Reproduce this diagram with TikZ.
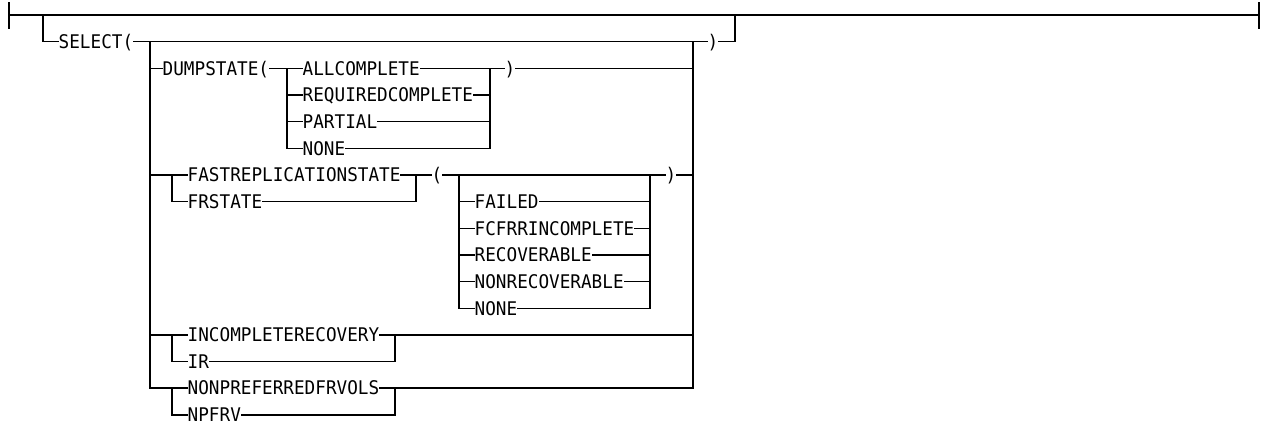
\documentclass[tikz,border=0pt]{standalone}
\usepackage{fontspec}
\newfontfamily\diagfont[FakeStretch=0.94]{DejaVu Sans Mono}
\begin{document}
\begin{tikzpicture}[x=0.5pt,y=-0.5pt,line width=0.7pt,line cap=rect,
  kw/.style={anchor=west,inner sep=0pt,text height=6.85pt,text depth=0pt,
    font={\diagfont\fontsize{9.4}{11}\selectfont}}]
\useasboundingbox (0,0) rectangle (1270,424);
\coordinate (start) at (9,15);
\coordinate (stop) at (1259,15);
\coordinate (drop) at (43,15);
\coordinate (rise) at (735,15);
\coordinate (selL) at (150,41.7);
\coordinate (selR) at (693,41.7);
\coordinate (dL) at (287,68.3);
\coordinate (dR) at (490,68.3);
\coordinate (frL) at (172,174.9);
\coordinate (frR) at (416,174.9);
\coordinate (fL) at (459,174.9);
\coordinate (fR) at (650,174.9);
\coordinate (irL) at (172,334.8);
\coordinate (irR) at (395,334.8);
\coordinate (npL) at (172,388.1);
\coordinate (npR) at (395,388.1);
\node[kw] (select) at (58,41.7) {SELECT(};
\node[kw] (sclose) at (707,41.7) {)};
\node[kw] (dump) at (162,68.3) {DUMPSTATE(};
\node[kw] (allc) at (302,68.3) {ALLCOMPLETE};
\node[kw] (reqc) at (302,95) {REQUIREDCOMPLETE};
\node[kw] (part) at (302,121.6) {PARTIAL};
\node[kw] (dnone) at (302,148.3) {NONE};
\node[kw] (dclose) at (504,68.3) {)};
\node[kw] (fast) at (187,174.9) {FASTREPLICATIONSTATE};
\node[kw] (frs) at (187,201.6) {FRSTATE};
\node[kw] (fopen) at (431,174.9) {(};
\node[kw] (failed) at (474,201.6) {FAILED};
\node[kw] (fcfrr) at (474,228.2) {FCFRRINCOMPLETE};
\node[kw] (recov) at (474,254.9) {RECOVERABLE};
\node[kw] (nonrec) at (474,281.5) {NONRECOVERABLE};
\node[kw] (fnone) at (474,308.2) {NONE};
\node[kw] (fclose) at (665,174.9) {)};
\node[kw] (incomp) at (187,334.8) {INCOMPLETERECOVERY};
\node[kw] (ir) at (187,361.5) {IR};
\node[kw] (nonpref) at (187,388.1) {NONPREFERREDFRVOLS};
\node[kw] (npfrv) at (187,414.8) {NPFRV};
% main line
\draw (start) ++(0,-12) -- ++(0,25);
\draw (start) -- (stop);
\draw (stop) ++(0,-12) -- ++(0,25);
\draw (drop) |- (select.west);
\draw (select.east) -- (sclose.west);
\draw (sclose.east) -| (rise);
\draw (selL) -- (selL |- nonpref.west);
\draw (selR) -- (selR |- nonpref.west);
% DUMPSTATE
\draw (selL |- dump.west) -- (dump.west);
\draw (dump.east) -- (dL);
\foreach \n in {allc,reqc,part,dnone}
  \draw (dL |- \n.west) -- (\n.west) (\n.east) -- (dR |- \n.west);
\draw (dL) -- (dL |- dnone.west);
\draw (dR) -- (dR |- dnone.west);
\draw (dR) -- (dclose.west);
\draw (dclose.east) -- (selR |- dclose.west);
% FASTREPLICATIONSTATE
\draw (selL |- frL) -- (frL);
\foreach \n in {fast,frs}
  \draw (frL |- \n.west) -- (\n.west) (\n.east) -- (frR |- \n.west);
\draw (frL) -- (frL |- frs.west);
\draw (frR) -- (frR |- frs.west);
\draw (frR) -- (fopen.west);
\draw (fopen.east) -- (fL) -- (fR) -- (fclose.west);
\draw (fclose.east) -- (selR |- fclose.west);
\foreach \n in {failed,fcfrr,recov,nonrec,fnone}
  \draw (fL |- \n.west) -- (\n.west) (\n.east) -- (fR |- \n.west);
\draw (fL) -- (fL |- fnone.west);
\draw (fR) -- (fR |- fnone.west);
% INCOMPLETERECOVERY
\draw (selL |- irL) -- (irL);
\foreach \n in {incomp,ir}
  \draw (irL |- \n.west) -- (\n.west) (\n.east) -- (irR |- \n.west);
\draw (irL) -- (irL |- ir.west);
\draw (irR) -- (irR |- ir.west);
\draw (irR) -- (selR |- irR);
% NONPREFERREDFRVOLS
\draw (selL |- npL) -- (npL);
\foreach \n in {nonpref,npfrv}
  \draw (npL |- \n.west) -- (\n.west) (\n.east) -- (npR |- \n.west);
\draw (npL) -- (npL |- npfrv.west);
\draw (npR) -- (npR |- npfrv.west);
\draw (npR) -- (selR |- npR);
\end{tikzpicture}
\end{document}
